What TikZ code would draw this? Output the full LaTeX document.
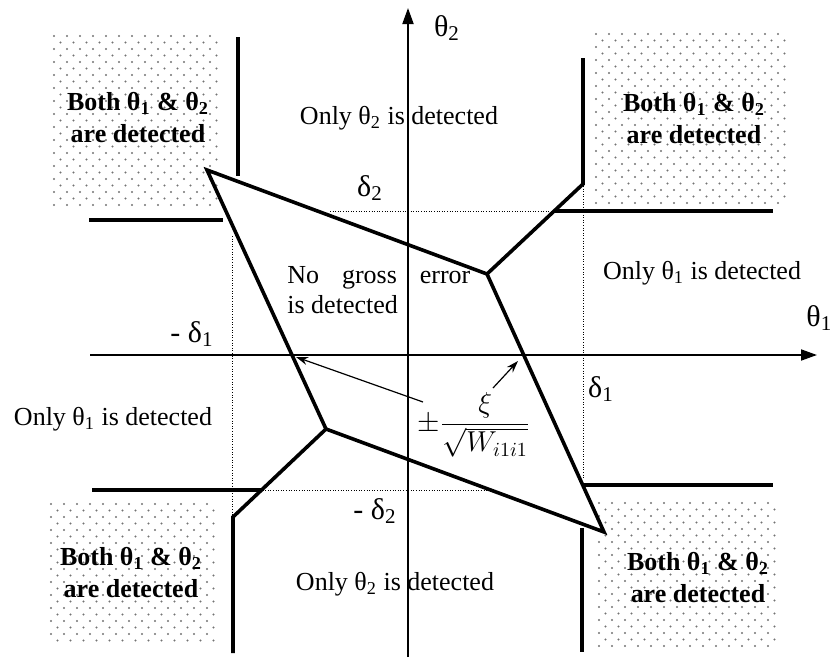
\documentclass[tikz,border=0pt]{standalone}
\usepackage{fontspec}
\setmainfont{Liberation Serif}
\usetikzlibrary{arrows.meta}
\newcommand\mystipple[4]{%
  \pgfmathtruncatemacro\nr{(#4-#2)/6.5}%
  \pgfmathtruncatemacro\nc{(#3-#1)/13}%
  \foreach \r in {0,...,\nr}{%
    \foreach \c in {0,...,\nc}{%
      \pgfmathsetmacro\xx{#1+\c*13+mod(\r,2)*6.5}%
      \pgfmathsetmacro\yy{#2+\r*6.5}%
      \fill[dotc] (\xx,\yy) circle[radius=0.6pt];
    }}}
\begin{document}
\begin{tikzpicture}[x=0.5pt,y=-0.5pt,
  dotc/.style={black!55},
  thickl/.style={line width=1.8pt, line join=miter},
  axisl/.style={line width=0.9pt, -{Triangle[length=8pt,width=5.5pt]}},
  dotl/.style={line width=0.5pt, dash pattern=on 0.5pt off 0.8pt},
  thinarrow/.style={line width=0.6pt, -{Stealth[length=6pt,width=4pt]}},
  lbl/.style={font=\fontsize{13}{15}\selectfont, inner sep=0pt},
  boldlbl/.style={font=\fontsize{13}{15}\selectfont\bfseries, align=center, inner sep=0pt},
  greek/.style={font=\fontsize{15}{17}\selectfont, inner sep=0pt}]
\useasboundingbox (0,0) rectangle (832,659);

% stippled corner regions
\mystipple{54}{36}{218}{210}
\mystipple{596}{34}{788}{203}
\mystipple{51}{504}{214}{643}
\mystipple{599}{503}{777}{647}

% axes
\coordinate (xs) at (90,355);
\coordinate (xe) at (817,355);
\coordinate (ys) at (408,657);
\coordinate (ye) at (408,8);
\draw[axisl] (xs) -- (xe);
\draw[axisl] (ys) -- (ye);

% dotted threshold lines
\coordinate (d1) at (232,236);
\coordinate (d2) at (232,515);
\coordinate (d3) at (330,211);
\coordinate (d4) at (554,211);
\coordinate (d5) at (583,186);
\coordinate (d6) at (583,478);
\coordinate (d7) at (260,490);
\coordinate (d8) at (491,490);
\draw[dotl] (d1) -- (d2);
\draw[dotl] (d3) -- (d4);
\draw[dotl] (d5) -- (d6);
\draw[dotl] (d7) -- (d8);

% rhombus
\coordinate (A) at (207,170);
\coordinate (B) at (487,274);
\coordinate (C) at (604,532);
\coordinate (D) at (326,429);
\draw[thickl] (A) -- (B) -- (C) -- (D) -- cycle;

% corner boundaries
\coordinate (tl1) at (238,37);
\coordinate (tl2) at (238,176);
\coordinate (tl3) at (89,220);
\coordinate (tl4) at (223,220);
\draw[thickl] (tl1) -- (tl2);
\draw[thickl] (tl3) -- (tl4);

\coordinate (tr1) at (583,58);
\coordinate (tr2) at (583,184);
\coordinate (tr3) at (554,211);
\coordinate (tr4) at (773,211);
\draw[thickl] (tr1) -- (tr2) -- (B);
\draw[thickl] (tr3) -- (tr4);

\coordinate (bl1) at (92,490);
\coordinate (bl2) at (261,490);
\coordinate (bl3) at (233,517);
\coordinate (bl4) at (233,653);
\draw[thickl] (bl1) -- (bl2);
\draw[thickl] (D) -- (bl3) -- (bl4);

\coordinate (br1) at (584,485);
\coordinate (br2) at (773,485);
\coordinate (br3) at (582,528);
\coordinate (br4) at (582,652);
\draw[thickl] (br1) -- (br2);
\draw[thickl] (br3) -- (br4);

% labels
\node[greek] (th2) at (447,28) {θ\textsubscript{2}};
\node[greek, anchor=west] (th1) at (806,318) {θ\textsubscript{1}};

\node[boldlbl] (b1) at (138,118) {Both θ\textsubscript{1} \& θ\textsubscript{2}\\[1pt]are detected};
\node[boldlbl] (b2) at (694,119) {Both θ\textsubscript{1} \& θ\textsubscript{2}\\[1pt]are detected};
\node[boldlbl] (b3) at (131,573) {Both θ\textsubscript{1} \& θ\textsubscript{2}\\[1pt]are detected};
\node[boldlbl] (b4) at (698,578) {Both θ\textsubscript{1} \& θ\textsubscript{2}\\[1pt]are detected};

\node[lbl] (o2t) at (399,118) {Only θ\textsubscript{2} is detected};
\node[lbl] (o2b) at (395,584) {Only θ\textsubscript{2} is detected};
\node[lbl] (o1r) at (702,273) {Only θ\textsubscript{1} is detected};
\node[lbl] (o1l) at (113,419) {Only θ\textsubscript{1} is detected};

\node[lbl, anchor=west, align=left] (ng) at (287,290) {\makebox[91.5pt][s]{No gross error}\\is detected};

\node[greek] (dl2) at (370,188) {δ\textsubscript{2}};
\node[greek] (mdl1) at (192,334) {- δ\textsubscript{1}};
\node[greek] (dl1) at (601,389) {δ\textsubscript{1}};
\node[greek] (mdl2) at (375,511) {- δ\textsubscript{2}};

\node[inner sep=0pt, font=\fontsize{14.5}{16}\selectfont] (f) at (474,425) {$\displaystyle\pm\frac{\xi}{\sqrt{W_{i1i1}}}$};

% arrows from the formula
\coordinate (a1s) at (423,402);
\coordinate (a1e) at (296,357);
\coordinate (a2s) at (493,388);
\coordinate (a2e) at (518,361);
\draw[thinarrow] (a1s) -- (a1e);
\draw[thinarrow] (a2s) -- (a2e);
\end{tikzpicture}
\end{document}
